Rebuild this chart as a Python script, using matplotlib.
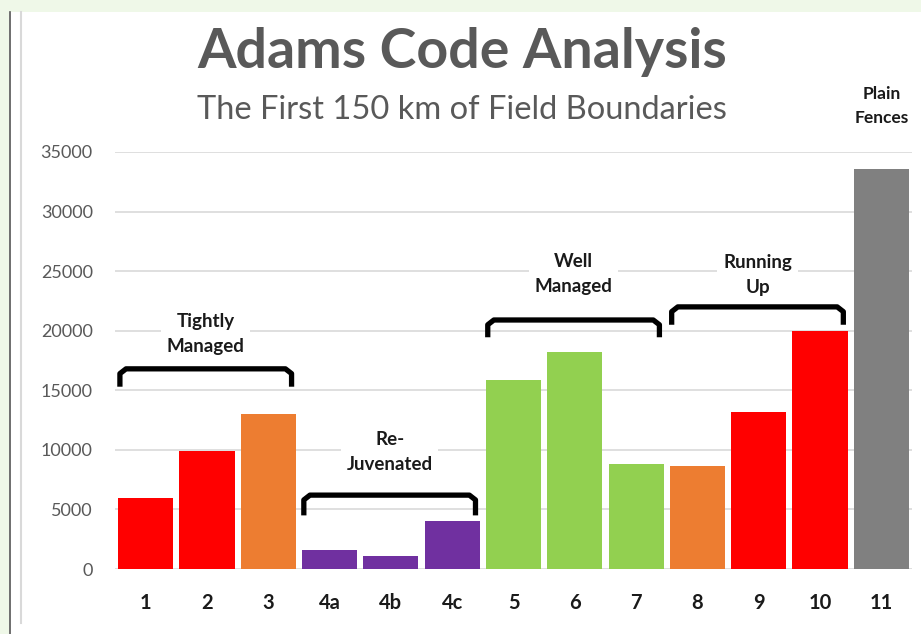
import matplotlib.pyplot as plt
from matplotlib.patches import Rectangle
from matplotlib.lines import Line2D

# Chart data
categories = ['1', '2', '3', '4a', '4b', '4c', '5', '6', '7', '8', '9', '10', '11']
lengths = [5950, 9900, 13000, 1600, 1100, 4000, 15900, 18200, 8800, 8650, 13150, 19950, 33600]
bar_colors = ['#ff0000', '#ff0000', '#ed7d31', '#7030a0', '#7030a0', '#7030a0',
              '#92d050', '#92d050', '#92d050', '#ed7d31', '#ff0000', '#ff0000', '#808080']

# group brackets: label, first bar, last bar
groups = [('Tightly\nManaged', 0, 2),
          ('Re-\nJuvenated', 3, 5),
          ('Well\nManaged', 6, 8),
          ('Running\nUp', 9, 11)]
bracket_tops = [16800, 6200, 20900, 22000]
bracket_drop = [1500, 1700, 1450, 1500]
label_heights = [19700, 9800, 24750, 24700]

W, H = 921, 634
fig = plt.figure(figsize=(W / 100, H / 100), dpi=100)
fig.patch.set_facecolor('white')

# screenshot frame: green page strip on top and left
fig.add_artist(Rectangle((0, 1 - 12 / H), 1, 12 / H, transform=fig.transFigure,
                         facecolor='#eff8e8', edgecolor='none'))
fig.add_artist(Rectangle((0, 0), 9 / W, 1, transform=fig.transFigure,
                         facecolor='#eff8e8', edgecolor='none'))
fig.add_artist(Line2D([9.5 / W, 9.5 / W], [0, 1 - 12 / H], transform=fig.transFigure,
                      color='#555555', lw=1.2))
fig.add_artist(Line2D([21 / W, 21 / W], [11 / H, 1 - 12 / H], transform=fig.transFigure,
                      color='#d9d9d9', lw=1.5))

ax = fig.add_axes([115 / W, 65 / H, 797 / W, 417 / H])
x = range(len(categories))
ax.bar(x, lengths, width=0.9, color=bar_colors, zorder=3)
ax.set_xlim(-0.5, len(categories) - 0.5)
ax.set_ylim(0, 35000)
ax.set_yticks(range(0, 35001, 5000))
ax.grid(axis='y', color='#d9d9d9', lw=1.2, zorder=0)
for s in ax.spines.values():
    s.set_visible(False)
ax.tick_params(axis='both', length=0)
ax.tick_params(axis='y', pad=16, labelsize=13, labelcolor='#595959')
ax.set_xticks(list(x))
ax.set_xticklabels(categories, fontsize=14.5, fontweight='bold', color='#1a1a1a')
ax.tick_params(axis='x', pad=17)
for lab in ax.get_yticklabels():
    lab.set_family('Lato')
for lab in ax.get_xticklabels():
    lab.set_family('Lato')

# brackets with labels
for (label, i0, i1), top, drop, ly in zip(groups, bracket_tops, bracket_drop, label_heights):
    x0, x1 = i0 - 0.42, i1 + 0.38
    r = 0.1
    ax.plot([x0, x0, x0 + r, x1 - r, x1, x1],
            [top - drop, top - 400, top, top, top - 400, top - drop],
            color='black', lw=3.8, solid_joinstyle='round', solid_capstyle='butt', zorder=4)
    ax.text((x0 + x1) / 2, ly, label, ha='center', va='center', fontsize=13.5,
            fontweight='bold', family='Lato', color='#1a1a1a', linespacing=1.55,
            bbox=dict(facecolor='white', edgecolor='none', pad=4), zorder=5)

ax.text(12, 38850, 'Plain\nFences', ha='center', va='center', fontsize=12.5,
        fontweight='bold', family='Lato', color='#1a1a1a', linespacing=1.65, clip_on=False)

fig.text(462 / W, 1 - 52 / H, 'Adams Code Analysis', ha='center', va='center',
         fontsize=40, fontweight='bold', family='Lato', color='#595959')
fig.text(462 / W, 1 - 110 / H, 'The First 150 km of Field Boundaries', ha='center',
         va='center', fontsize=23.5, family='Lato', color='#595959')

fig.savefig('out.png', dpi=100)
